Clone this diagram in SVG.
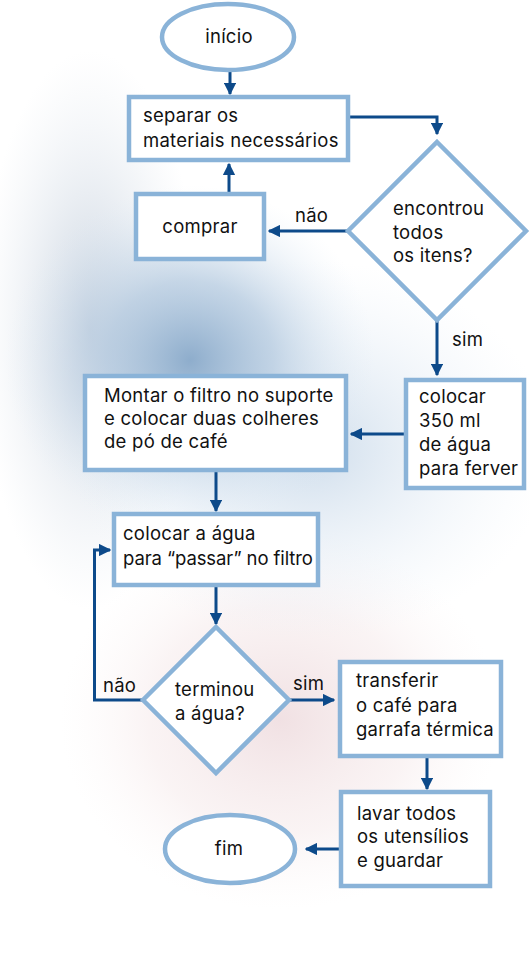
<svg xmlns="http://www.w3.org/2000/svg" width="530" height="957" viewBox="0 0 530 957">
<defs>
<style>
.box{fill:#ffffff;stroke:#8ab3d8;stroke-width:4.5}
.ln{fill:none;stroke:#0d4a8a;stroke-width:3}
text{font-family:Inter,"Liberation Sans",sans-serif;font-size:18.5px;letter-spacing:0.25px;fill:#111111}
.tight{letter-spacing:-0.1px}
</style>
<marker id="ah" viewBox="0 0 10 10" refX="9" refY="5" markerWidth="4.2" markerHeight="4.2" orient="auto" markerUnits="strokeWidth">
<path d="M0,0 L10,5 L0,10 z" fill="#0d4a8a"/>
</marker>
<radialGradient id="gb" cx="0.5" cy="0.5" r="0.5">
<stop offset="0" stop-color="#8eadcc" stop-opacity="1"/>
<stop offset="0.45" stop-color="#b3c9df" stop-opacity="0.75"/>
<stop offset="1" stop-color="#e4eef7" stop-opacity="0"/>
</radialGradient>
<radialGradient id="gp" cx="0.5" cy="0.5" r="0.5">
<stop offset="0" stop-color="#edd9dc" stop-opacity="0.8"/>
<stop offset="0.6" stop-color="#f4e6e7" stop-opacity="0.45"/>
<stop offset="1" stop-color="#fbf4f4" stop-opacity="0"/>
</radialGradient>
<radialGradient id="gl" cx="0.5" cy="0.5" r="0.5">
<stop offset="0" stop-color="#c6d7e8" stop-opacity="0.85"/>
<stop offset="1" stop-color="#e8f0f8" stop-opacity="0"/>
</radialGradient>
<radialGradient id="gg" cx="0.5" cy="0.5" r="0.5">
<stop offset="0" stop-color="#b9c6d6" stop-opacity="0.8"/>
<stop offset="1" stop-color="#dde4ec" stop-opacity="0"/>
</radialGradient>
</defs>
<rect width="530" height="957" fill="#ffffff"/>
<g id="background">
<ellipse cx="280" cy="720" rx="220" ry="190" fill="url(#gp)"/>
<ellipse cx="90" cy="330" rx="110" ry="280" fill="url(#gg)"/>
<ellipse cx="310" cy="450" rx="240" ry="190" fill="url(#gl)"/>
<ellipse cx="190" cy="360" rx="185" ry="175" fill="url(#gb)"/>
</g>
<g id="connectors">
<path class="ln" d="M230,71 V94" marker-end="url(#ah)"/>
<path class="ln" d="M350,117 H437 V134" marker-end="url(#ah)"/>
<path class="ln" d="M347,231 H269" marker-end="url(#ah)"/>
<path class="ln" d="M229,193 V164" marker-end="url(#ah)"/>
<path class="ln" d="M437,320 V375" marker-end="url(#ah)"/>
<path class="ln" d="M404,434 H351" marker-end="url(#ah)"/>
<path class="ln" d="M216,472 V511" marker-end="url(#ah)"/>
<path class="ln" d="M216,587 V624" marker-end="url(#ah)"/>
<path class="ln" d="M142,700 H94.5 V550 H110" marker-end="url(#ah)"/>
<path class="ln" d="M290,700 H334" marker-end="url(#ah)"/>
<path class="ln" d="M427,758 V789" marker-end="url(#ah)"/>
<path class="ln" d="M339,849 H306" marker-end="url(#ah)"/>
<text x="295" y="222">não</text>
<text x="452" y="346">sim</text>
<text x="103" y="692">não</text>
<text x="293" y="690">sim</text>
</g>
<g id="inicio">
<ellipse class="box" cx="228" cy="37" rx="66" ry="33"/>
<text x="229" y="43" text-anchor="middle">início</text>
</g>
<g id="separar">
<rect class="box" x="129" y="97" width="219" height="63"/>
<text x="143" y="122">separar os</text>
<text x="143" y="147">materiais necessários</text>
</g>
<g id="decisao1">
<path class="box" d="M437,142 L526,231 L437,320 L348,231 z"/>
<text x="393" y="215">encontrou</text>
<text x="393" y="239">todos</text>
<text x="393" y="262">os itens?</text>
</g>
<g id="comprar">
<rect class="box" x="136" y="194" width="128" height="65"/>
<text x="200" y="233" text-anchor="middle">comprar</text>
</g>
<g id="ferver">
<rect class="box" x="406" y="380" width="118" height="108"/>
<text x="419" y="403">colocar</text>
<text x="419" y="427">350 ml</text>
<text x="419" y="451">de água</text>
<text x="419" y="475">para ferver</text>
</g>
<g id="montar">
<rect class="box" x="85" y="376" width="261" height="94"/>
<text x="104" y="402">Montar o filtro no suporte</text>
<text x="104" y="425">e colocar duas colheres</text>
<text x="104" y="448">de pó de café</text>
</g>
<g id="passar">
<rect class="box" x="114" y="514" width="204" height="71"/>
<text x="123" y="540">colocar a água</text>
<text class="tight" x="123" y="565">para “passar” no filtro</text>
</g>
<g id="decisao2">
<path class="box" d="M216,627 L289,700 L216,773 L143,700 z"/>
<text x="175" y="696">terminou</text>
<text x="175" y="720">a água?</text>
</g>
<g id="transferir">
<rect class="box" x="340" y="662" width="161" height="94"/>
<text x="356" y="687">transferir</text>
<text x="356" y="712">o café para</text>
<text x="356" y="736">garrafa térmica</text>
</g>
<g id="lavar">
<rect class="box" x="341" y="792" width="149" height="94"/>
<text x="357" y="820">lavar todos</text>
<text x="357" y="843">os utensílios</text>
<text x="357" y="867">e guardar</text>
</g>
<g id="fim">
<ellipse class="box" cx="230" cy="849" rx="65" ry="34"/>
<text x="229" y="855" text-anchor="middle">fim</text>
</g>
</svg>
